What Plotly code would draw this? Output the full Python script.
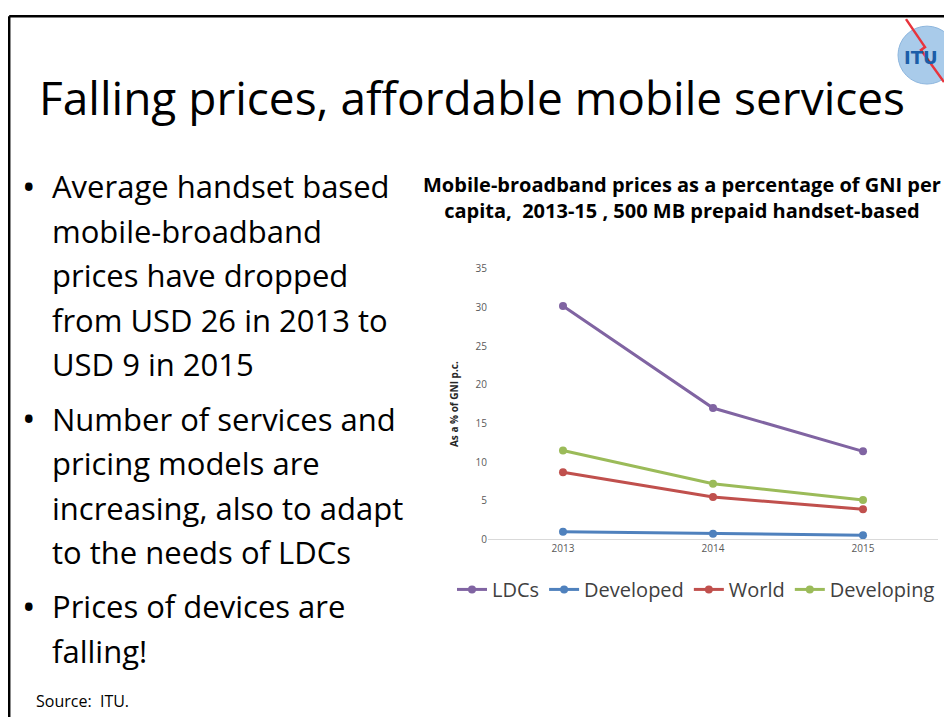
import plotly.graph_objects as go

W, H = 936, 709
# measured: the figure shows up ~8px from the left and ~15px from the top,
# with a slight vertical squeeze; positions below are in screen pixels
OFF_X, OFF_Y, SQ = 8, 14.85, 0.9815

years = ['2013', '2014', '2015']
ldcs = [30.2, 17.0, 11.4]
developed = [1.0, 0.75, 0.55]
world = [8.7, 5.5, 3.9]
developing = [11.5, 7.2, 5.1]

series_names = ['LDCs', 'Developed', 'World', 'Developing']
series_colors = ['#8064A2', '#4F81BD', '#C0504D', '#9BBB59']

slide_title = 'Falling prices, affordable mobile services'
chart_title = ['Mobile-broadband prices as a percentage of GNI per',
               'capita,  2013-15 , 500 MB prepaid handset-based']
y_title = 'As a % of GNI p.c.'
source_text = 'Source:  ITU.'

bullets = [
    ['Average handset based', 'mobile-broadband', 'prices have dropped',
     'from USD 26 in 2013 to', 'USD 9 in 2015'],
    ['Number of services and', 'pricing models are',
     'increasing, also to adapt', 'to the needs of LDCs'],
    ['Prices of devices are', 'falling!'],
]


# convert window pixel positions to paper coords
def px(x):
    return (x - OFF_X) / W


def py(y):
    return 1 - ((y - OFF_Y) / SQ) / H


FONT = 'Open Sans'

fig = go.Figure()
for name, vals, col in zip(series_names, [ldcs, developed, world, developing], series_colors):
    fig.add_trace(go.Scatter(
        x=years, y=vals, name=name, mode='lines+markers',
        line=dict(color=col, width=3),
        marker=dict(color=col, size=8),
    ))

fig.update_layout(
    width=W, height=H,
    margin=dict(l=0, r=0, t=0, b=0),
    paper_bgcolor='white', plot_bgcolor='white',
    font=dict(family=FONT, color='#404040'),
    showlegend=True,
    legend=dict(orientation='h', x=px(696), xanchor='center', y=py(590), yanchor='middle',
                font=dict(size=20, color='#404040'), itemwidth=30,
                tracegroupgap=0, bgcolor='rgba(0,0,0,0)'),
    xaxis=dict(domain=[px(488), px(938)], type='category', range=[-0.5, 2.5],
               showgrid=False, showline=True, linecolor='#D9D9D9', linewidth=1,
               ticks='', tickfont=dict(size=10, color='#595959'), zeroline=False),
    yaxis=dict(domain=[py(540), py(269)], range=[0, 35], dtick=5,
               showgrid=False, showline=False, zeroline=False,
               tickfont=dict(size=10, color='#595959'), ticks='',
               title=dict(text='<b>' + y_title + '</b>', font=dict(size=10, color='#262626'),
                          standoff=15)),
)

ann = []
ann.append(dict(text=slide_title, x=px(37), y=py(96.5), xanchor='left', yanchor='middle',
                font=dict(size=46, color='#000000', family=FONT)))
ann.append(dict(text='<b>' + '<br>'.join(chart_title) + '</b>', x=px(682), y=py(198),
                xanchor='center', yanchor='middle', align='center',
                font=dict(size=20, color='#000000', family=FONT)))
ann.append(dict(text=source_text, x=px(34), y=py(702), xanchor='left', yanchor='middle',
                font=dict(size=16, color='#000000', family=FONT)))

y = 186.5
for para in bullets:
    ann.append(dict(text='\u2022', x=px(20), y=py(y), xanchor='left', yanchor='middle',
                    font=dict(size=36, color='#000000', family=FONT)))
    for line in para:
        ann.append(dict(text=line, x=px(50), y=py(y), xanchor='left', yanchor='middle',
                        font=dict(size=31, color='#000000', family=FONT)))
        y += 44.5
    y += 10

for a in ann:
    a.update(xref='paper', yref='paper', showarrow=False)
fig.update_layout(annotations=ann)

shapes = [
    # slide frame
    dict(type='line', x0=px(9.2), x1=px(952), y0=py(16), y1=py(16),
         line=dict(color='black', width=2.5)),
    dict(type='line', x0=px(9.2), x1=px(9.2), y0=py(16), y1=py(725),
         line=dict(color='black', width=2.5)),
    # ITU globe
    dict(type='circle', x0=px(898), x1=px(956), y0=py(26), y1=py(84),
         fillcolor='#A9CBEA', line=dict(color='#8DB6DE', width=1)),
    # lightning bolt
    dict(type='path', path='M %f %f L %f %f L %f %f L %f %f' % (
        px(906), py(19), px(925), py(47), px(921), py(50), px(944), py(82)),
        line=dict(color='#E8343C', width=2.5)),
]
for s in shapes:
    s.update(xref='paper', yref='paper')
fig.update_layout(shapes=shapes)
fig.add_annotation(text='<b>ITU</b>', x=px(921), y=py(57), xref='paper', yref='paper',
                   showarrow=False, xanchor='center', yanchor='middle',
                   font=dict(size=18, color='#1B5DA8', family='DejaVu Sans'))

fig.write_html('out.html')
